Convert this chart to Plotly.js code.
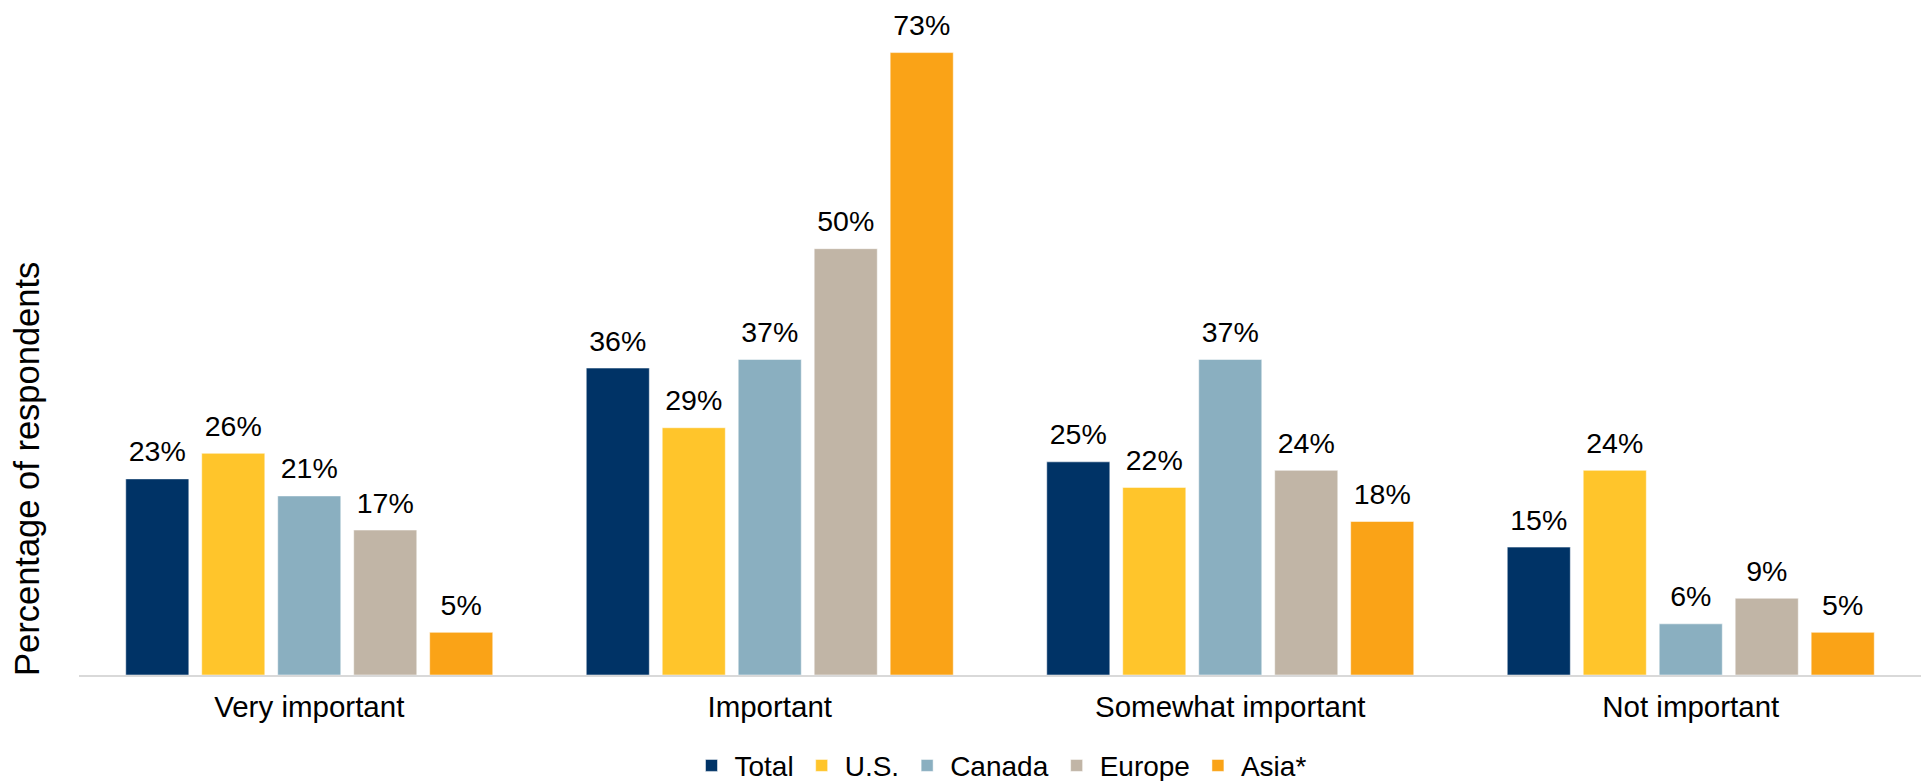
<!DOCTYPE html>
<html>
<head>
<meta charset="utf-8">
<script src="https://cdn.plot.ly/plotly-3.0.1.min.js"></script>
<style>html,body{margin:0;padding:0;background:#fff;}#chart{width:1923px;height:781px;}</style>
</head>
<body>
<div id="chart"></div>
<script>
var categories = ["Very important", "Important", "Somewhat important", "Not important"];
var seriesNames = ["Total", "U.S.", "Canada", "Europe", "Asia*"];
var totalVals = [23, 36, 25, 15];
var usVals = [26, 29, 22, 24];
var canadaVals = [21, 37, 37, 6];
var europeVals = [17, 50, 24, 9];
var asiaVals = [5, 73, 18, 5];
var seriesColors = ["#003366", "#FFC52B", "#8AAFC0", "#C1B5A6", "#FAA317"];
var yAxisTitle = "Percentage of respondents";

var allVals = [totalVals, usVals, canadaVals, europeVals, asiaVals];
var FONT = "Arial, 'Liberation Sans', sans-serif";

var traces = [];
allVals.forEach(function (vals, i) {
  traces.push({
    type: "bar",
    name: seriesNames[i],
    x: categories,
    y: vals,
    offsetgroup: "g" + i,
    marker: { color: seriesColors[i], line: { color: "rgba(255,255,255,0.5)", width: 1 } },
    hoverinfo: "skip"
  });
});
allVals.forEach(function (vals, i) {
  traces.push({
    type: "scatter",
    mode: "markers+text",
    name: seriesNames[i] + " labels",
    showlegend: false,
    x: categories,
    y: vals,
    offsetgroup: "g" + i,
    text: vals.map(function (v) { return v + "%"; }),
    textposition: "top center",
    textfont: { family: FONT, size: 28.5, color: "#000" },
    marker: { size: 15, color: "rgba(0,0,0,0)" },
    cliponaxis: false,
    hoverinfo: "skip"
  });
});

var layout = {
  width: 1923,
  height: 781,
  margin: { l: 79, r: 2, t: 27, b: 106, autoexpand: false },
  paper_bgcolor: "#fff",
  plot_bgcolor: "#fff",
  font: { family: FONT, size: 29, color: "#000" },
  barmode: "group",
  scattermode: "group",
  bargap: 0.175,
  bargroupgap: 0.17,
  showlegend: true,
  legend: {
    orientation: "h",
    x: 0.5, xanchor: "center",
    y: -0.14, yanchor: "middle",
    font: { family: FONT, size: 28, color: "#000" },
    itemwidth: 36,
    traceorder: "normal"
  },
  xaxis: {
    type: "category",
    showline: true,
    linecolor: "#D9D9D9",
    linewidth: 2,
    ticks: "",
    ticklabelstandoff: 5,
    automargin: false,
    tickfont: { family: FONT, size: 29.5, color: "#000" },
    showgrid: false,
    zeroline: false
  },
  yaxis: {
    range: [0, 76],
    showticklabels: false,
    showgrid: false,
    zeroline: false,
    showline: false,
    automargin: false,
    ticks: ""
  },
  annotations: [{
    text: yAxisTitle,
    textangle: -90,
    xref: "paper", yref: "paper",
    x: -0.0282, xanchor: "center",
    y: 0.318, yanchor: "middle",
    showarrow: false,
    font: { family: FONT, size: 34.5, color: "#000" }
  }]
};

Plotly.newPlot("chart", traces, layout, { displayModeBar: false, staticPlot: true });
</script>
</body>
</html>
